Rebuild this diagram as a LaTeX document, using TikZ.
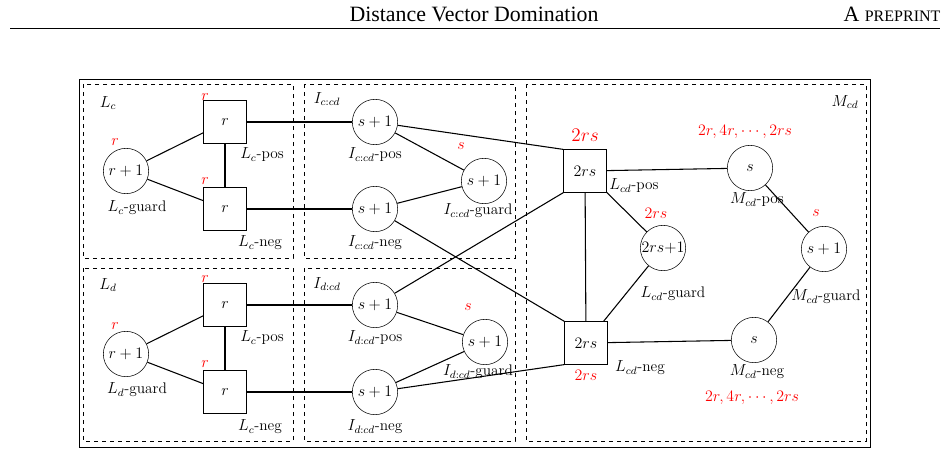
\documentclass[tikz,border=0pt]{standalone}
\usepackage{fontspec}
\newfontfamily\hdr{Liberation Serif}
\begin{document}
\begin{tikzpicture}[x=0.75pt,y=-0.75pt,
  font=\fontsize{11.5}{14}\selectfont,
  cn/.style={draw,circle,minimum size=34pt,inner sep=0pt},
  sq/.style={draw,minimum size=32pt,inner sep=0pt},
  rd/.style={text=red,inner sep=1pt},
  lb/.style={inner sep=1pt},
  grp/.style={draw,dashed},
  ed/.style={thick}]
\useasboundingbox (0,0) rectangle (948,453);
\node[lb,font=\hdr\fontsize{16.4}{18}\selectfont] (h1) at (474,14) {Distance Vector Domination};
\node[lb,font=\hdr\fontsize{16.4}{18}\selectfont,anchor=east] (h2) at (942,14) {A {\fontsize{12}{14}\selectfont PREPRINT}};
\draw (10,28) -- (940,28);
\draw (79,79) rectangle (870,447);
\draw[grp] (83,84) rectangle (293,258);
\draw[grp] (304,84) rectangle (515,258);
\draw[grp] (83,268) rectangle (293,441);
\draw[grp] (304,268) rectangle (515,441);
\draw[grp] (526,84) rectangle (866,441);
\node[lb] (tLc) at (108,103) {$L_c$};
\node[lb] (tIc) at (327,99) {$I_{c:cd}$};
\node[lb] (tLd) at (108,285) {$L_d$};
\node[lb] (tId) at (327,284) {$I_{d:cd}$};
\node[lb] (tM) at (845,102) {$M_{cd}$};
% c part
\node[cn] (cg) at (126,171) {$r+1$};
\node[sq] (cp) at (225,122) {$r$};
\node[sq] (cneg) at (225,209) {$r$};
\node[cn] (icp) at (375,122) {$s+1$};
\node[cn] (icn) at (375,209) {$s+1$};
\node[cn] (icg) at (484,181) {$s+1$};
\node[rd] at (115,142) {$r$};
\node[rd] at (205,97) {$r$};
\node[rd] at (205,181) {$r$};
\node[rd] at (461,146) {$s$};
\node[lb] at (137,208) {$L_c$-guard};
\node[lb] at (262,155) {$L_c$-pos};
\node[lb] at (260,243) {$L_c$-neg};
\node[lb] at (375,155) {$I_{c:cd}$-pos};
\node[lb] at (375,243) {$I_{c:cd}$-neg};
\node[lb] at (478,211) {$I_{c:cd}$-guard};
% d part
\node[cn] (dg) at (126,354) {$r+1$};
\node[sq] (dp) at (225,305) {$r$};
\node[sq] (dneg) at (225,392) {$r$};
\node[cn] (idp) at (375,305) {$s+1$};
\node[cn] (idn) at (375,392) {$s+1$};
\node[cn] (idg) at (485,342) {$s+1$};
\node[rd] at (115,326) {$r$};
\node[rd] at (205,279) {$r$};
\node[rd] at (205,364) {$r$};
\node[rd] at (468,307) {$s$};
\node[lb] at (137,390) {$L_d$-guard};
\node[lb] at (262,338) {$L_c$-pos};
\node[lb] at (260,427) {$L_c$-neg};
\node[lb] at (375,338) {$I_{d:cd}$-pos};
\node[lb] at (375,427) {$I_{d:cd}$-neg};
\node[lb] at (478,372) {$I_{d:cd}$-guard};
% M part
\node[sq] (lp) at (585,171) {$2rs$};
\node[sq] (ln) at (586,343) {$2rs$};
\node[cn] (lg) at (663,248) {$2rs{+}1$};
\node[cn] (mp) at (750,168) {$s$};
\node[cn] (mg) at (824,249) {$s+1$};
\node[cn] (mn) at (754,340) {$s$};
\node[rd,font=\fontsize{14}{16}\selectfont] at (585,135) {$2rs$};
\node[rd] at (586,375) {$2rs$};
\node[rd] at (656,213) {$2rs$};
\node[rd] at (745,132) {$2r,4r,\cdots,2rs$};
\node[rd] at (816,213) {$s$};
\node[rd] at (752,398) {$2r,4r,\cdots,2rs$};
\node[lb] at (634,186) {$L_{cd}$-pos};
\node[lb] at (640,368) {$L_{cd}$-neg};
\node[lb] at (673,294) {$L_{cd}$-guard};
\node[lb] at (757,200) {$M_{cd}$-pos};
\node[lb] at (826,297) {$M_{cd}$-guard};
\node[lb] at (757,372) {$M_{cd}$-neg};
% edges
\draw[ed] (cg) -- (cp); \draw[ed] (cg) -- (cneg); \draw[ed] (cp) -- (cneg);
\draw[ed] (cp) -- (icp); \draw[ed] (cneg) -- (icn);
\draw[ed] (icp) -- (icg); \draw[ed] (icn) -- (icg);
\draw[ed] (dg) -- (dp); \draw[ed] (dg) -- (dneg); \draw[ed] (dp) -- (dneg);
\draw[ed] (dp) -- (idp); \draw[ed] (dneg) -- (idn);
\draw[ed] (idp) -- (idg); \draw[ed] (idn) -- (idg);
\draw[ed] (icp) -- (lp.north west); \draw[ed] (idp) -- (lp.south west);
\draw[ed] (icn) -- (ln.north west); \draw[ed] (idn) -- (ln.south west);
\draw[ed] (lp) -- (ln); \draw[ed] (lp) -- (lg); \draw[ed] (ln) -- (lg);
\draw[ed] (lp) -- (mp); \draw[ed] (ln) -- (mn);
\draw[ed] (mp) -- (mg); \draw[ed] (mn) -- (mg);
\end{tikzpicture}
\end{document}
